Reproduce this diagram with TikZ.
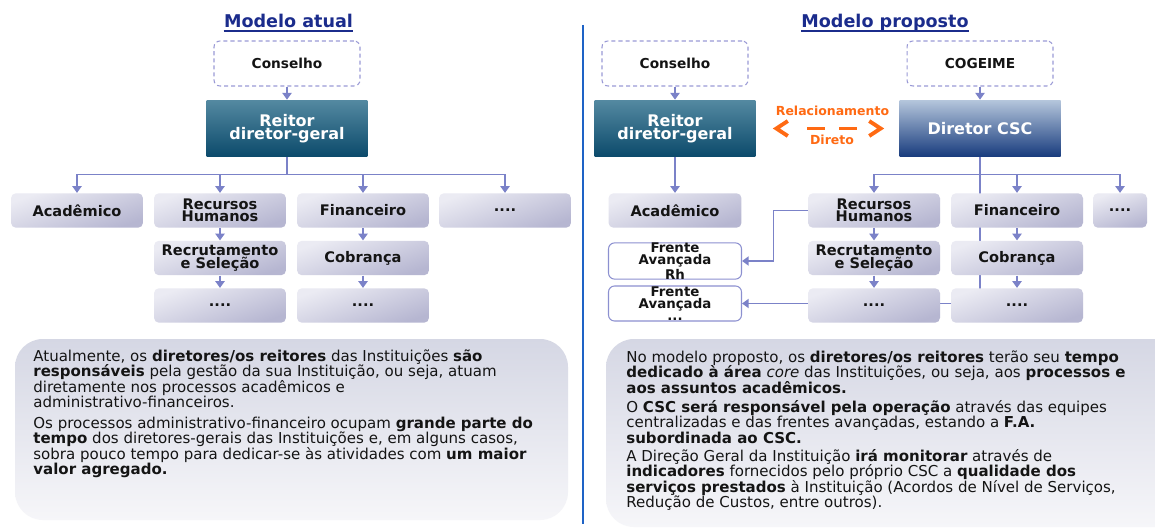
\documentclass[tikz,border=0pt]{standalone}
\usepackage{fontspec}
\setmainfont{DejaVu Sans}
\usetikzlibrary{arrows.meta,calc}
\pgfdeclarelayer{bg}
\pgfdeclarelayer{paper}
\pgfsetlayers{paper,bg,main}

\definecolor{titleblue}{HTML}{1B2C8C}
\definecolor{linkc}{HTML}{7B82C8}
\definecolor{dashc}{HTML}{9A9AD6}
\definecolor{lvtop}{HTML}{EBEBF3}
\definecolor{lvbot}{HTML}{B6B6D1}
\definecolor{reitop}{HTML}{5489A1}
\definecolor{reibot}{HTML}{0B4A6B}
\definecolor{dirtop}{HTML}{B5C6DC}
\definecolor{dirbot}{HTML}{173B7D}
\definecolor{pantop}{HTML}{D5D7E4}
\definecolor{panbot}{HTML}{F6F6F9}
\definecolor{divc}{HTML}{1E63C6}
\definecolor{relc}{HTML}{FF6A13}
\definecolor{ink}{HTML}{141414}
\definecolor{faline}{HTML}{8C90D0}

\tikzset{
  lvbox/.style={rounded corners=0.1cm, top color=lvtop, bottom color=lvbot,
    shading angle=20, minimum width=2.64cm, minimum height=0.69cm, inner sep=0,
    align=center, text=ink, font=\bfseries\fontsize{8.3}{7}\selectfont},
  dashbox/.style={draw=dashc, dash pattern=on 2.3pt off 1.7pt, line width=0.6pt,
    rounded corners=0.12cm, fill=white, minimum width=2.92cm, minimum height=0.9cm,
    inner sep=0, text=ink, font=\bfseries\fontsize{7.8}{9}\selectfont},
  headbox/.style={minimum width=3.22cm, minimum height=1.14cm, inner sep=0,
    align=center, text=white, font=\bfseries\fontsize{9.1}{7.6}\selectfont},
  reitbox/.style={headbox, top color=reitop, bottom color=reibot},
  dirbox/.style={headbox, top color=dirtop, bottom color=dirbot},
  fabox/.style={draw=faline, line width=0.6pt, fill=white, rounded corners=0.12cm,
    minimum width=2.66cm, minimum height=0.68cm, inner sep=0, align=center,
    text=ink, font=\bfseries\fontsize{7.6}{6.8}\selectfont},
  conn/.style={draw=linkc, line width=0.85pt},
  arr/.style={conn, -{Triangle[length=3.8pt,width=5.2pt]}},
  rel/.style={draw=relc, line width=2.2pt,
    {Straight Barb[length=6.5pt,width=8.5pt]}-{Straight Barb[length=6.5pt,width=8.5pt]},
    dash pattern=on 0pt off 16.5pt on 10.2pt off 7.9pt on 10.2pt off 40pt,
    shorten <=0.34cm, shorten >=0.30cm},
  reltext/.style={text=relc, inner sep=0, font=\bfseries\fontsize{7.1}{8}\selectfont},
  title/.style={anchor=base, inner sep=0, text=titleblue,
    font=\bfseries\fontsize{10}{12}\selectfont},
  panel/.style={rounded corners=0.56cm, top color=pantop, bottom color=panbot},
  ptext/.style={anchor=base west, inner sep=0, text=ink,
    font=\fontsize{8.55}{10}\selectfont}
}

\begin{document}
\begin{tikzpicture}[x=0.02cm, y=-0.02cm]
\useasboundingbox (0,0) rectangle (1155,530);
\begin{pgfonlayer}{paper}
  \fill[white] (0,0) rectangle (1155,530);
\end{pgfonlayer}

% column divider
\draw[divc, line width=1.6pt] (583,25) -- (583,524);

% ---------- current model ----------
\node[title] (tl) at (288.5,28) {Modelo atual};
\draw[titleblue, line width=1.1pt] ([yshift=-1.8pt]tl.base west) -- ([yshift=-1.8pt]tl.base east);

\node[dashbox] (lcons) at (287,63.5) {Conselho};
\node[reitbox] (lreit) at (287,128.5) {Reitor\\diretor-geral};

\node[lvbox] (lacad) at (77,210.5) {Acadêmico};
\node[lvbox] (lrh)   at (220,210.5) {Recursos\\Humanos};
\node[lvbox] (lfin)  at (363,210.5) {Financeiro};
\node[lvbox] (ldots) at (505,210.5) {....};
\node[lvbox] (lrec)  at (220,258) {Recrutamento\\e Seleção};
\node[lvbox] (lcob)  at (363,258) {Cobrança};
\node[lvbox] (lrd)   at (220,305.5) {....};
\node[lvbox] (lcd)   at (363,305.5) {....};

% ---------- proposed model ----------
\node[title] (tr) at (885,28) {Modelo proposto};
\draw[titleblue, line width=1.1pt] ([yshift=-1.8pt]tr.base west) -- ([yshift=-1.8pt]tr.base east);

\node[dashbox] (rcons) at (675,63.5) {Conselho};
\node[dashbox] (rcog)  at (980,63.5) {COGEIME};
\node[reitbox] (rreit) at (675,128.5) {Reitor\\diretor-geral};
\node[dirbox]  (rdir)  at (980,128.5) {Diretor CSC};

\node[reltext] (relup) at (832.5,111) {Relacionamento};
\node[reltext] (reldn) at (832,139.5) {Direto};

\node[lvbox, minimum width=2.66cm] (racad) at (675,210.5) {Acadêmico};
\node[lvbox] (rrh)   at (874,210.5) {Recursos\\Humanos};
\node[lvbox] (rfin)  at (1017,210.5) {Financeiro};
\node[lvbox, minimum width=1.08cm] (rdots) at (1120,210.5) {....};
\node[lvbox] (rrec)  at (874,258) {Recrutamento\\e Seleção};
\node[lvbox] (rcob)  at (1017,258) {Cobrança};
\node[lvbox] (rrd)   at (874,305.5) {....};
\node[lvbox] (rcd)   at (1017,305.5) {....};

\node[fabox] (fa1) at (675,261) {Frente\\Avançada\\Rh};
\node[fabox, minimum height=0.70cm] (fa2) at (675,303.5) {Frente\\Avançada\\...};

% ---------- connectors, kept behind the boxes ----------
\begin{pgfonlayer}{bg}
  \draw[arr] (lcons.south) -- (lreit.north);
  \foreach \t in {lacad,lrh,lfin,ldots}
    \draw[arr] (lreit.south) -- ++(0,17) -| (\t.north);
  \draw[arr] (lrh.south) -- (lrec.north);
  \draw[arr] (lrec.south) -- (lrd.north);
  \draw[arr] (lfin.south) -- (lcob.north);
  \draw[arr] (lcob.south) -- (lcd.north);

  \draw[arr] (rcons.south) -- (rreit.north);
  \draw[arr] (rcog.south) -- (rdir.north);
  \draw[arr] (rreit.south) -- (racad.north);
  \foreach \t in {rrh,rfin,rdots}
    \draw[arr] (rdir.south) -- ++(0,17) -| (\t.north);
  \draw[arr] (rdir.south) |- (fa2.east);
  \draw[arr] (rrh.west) -- ++(-34,0) |- (fa1.east);
  \draw[arr] (rrh.south) -- (rrec.north);
  \draw[arr] (rrec.south) -- (rrd.north);
  \draw[arr] (rfin.south) -- (rcob.north);
  \draw[arr] (rcob.south) -- (rcd.north);
\end{pgfonlayer}

\draw[rel] (rreit.east) -- (rdir.west);

% ---------- text panels ----------
\path[panel] (15,339) rectangle (568,520);
\node[ptext] (lp1) at (33,361)   {Atualmente, os \textbf{diretores/os reitores} das Instituições \textbf{são}};
\node[ptext] (lp2) at (33,376.5) {\textbf{responsáveis} pela gestão da sua Instituição, ou seja, atuam};
\node[ptext] (lp3) at (33,392)   {diretamente nos processos acadêmicos e};
\node[ptext] (lp4) at (33,407.5) {administrativo-financeiros.};
\node[ptext] (lp5) at (33,428)   {Os processos administrativo-financeiro ocupam \textbf{grande parte do}};
\node[ptext] (lp6) at (33,443.5) {\textbf{tempo} dos diretores-gerais das Instituições e, em alguns casos,};
\node[ptext] (lp7) at (33,459)   {sobra pouco tempo para dedicar-se às atividades com \textbf{um maior}};
\node[ptext] (lp8) at (33,474.5) {\textbf{valor agregado.}};

\path[panel] (606,339) rectangle (1190,527);
\node[ptext] (rp1)  at (626,362)   {No modelo proposto, os \textbf{diretores/os reitores} terão seu \textbf{tempo}};
\node[ptext] (rp2)  at (626,377.5) {\textbf{dedicado à área} \textit{core} das Instituições, ou seja, aos \textbf{processos e}};
\node[ptext] (rp3)  at (626,393)   {\textbf{aos assuntos acadêmicos.}};
\node[ptext] (rp4)  at (626,412)   {O \textbf{CSC será responsável pela operação} através das equipes};
\node[ptext] (rp5)  at (626,427.5) {centralizadas e das frentes avançadas, estando a \textbf{F.A.}};
\node[ptext] (rp6)  at (626,443)   {\textbf{subordinada ao CSC.}};
\node[ptext] (rp7)  at (626,461)   {A Direção Geral da Instituição \textbf{irá monitorar} através de};
\node[ptext] (rp8)  at (626,476.5) {\textbf{indicadores} fornecidos pelo próprio CSC a \textbf{qualidade dos}};
\node[ptext] (rp9)  at (626,492)   {\textbf{serviços prestados} à Instituição (Acordos de Nível de Serviços,};
\node[ptext] (rp10) at (626,507.5) {Redução de Custos, entre outros).};
\end{tikzpicture}
\end{document}
